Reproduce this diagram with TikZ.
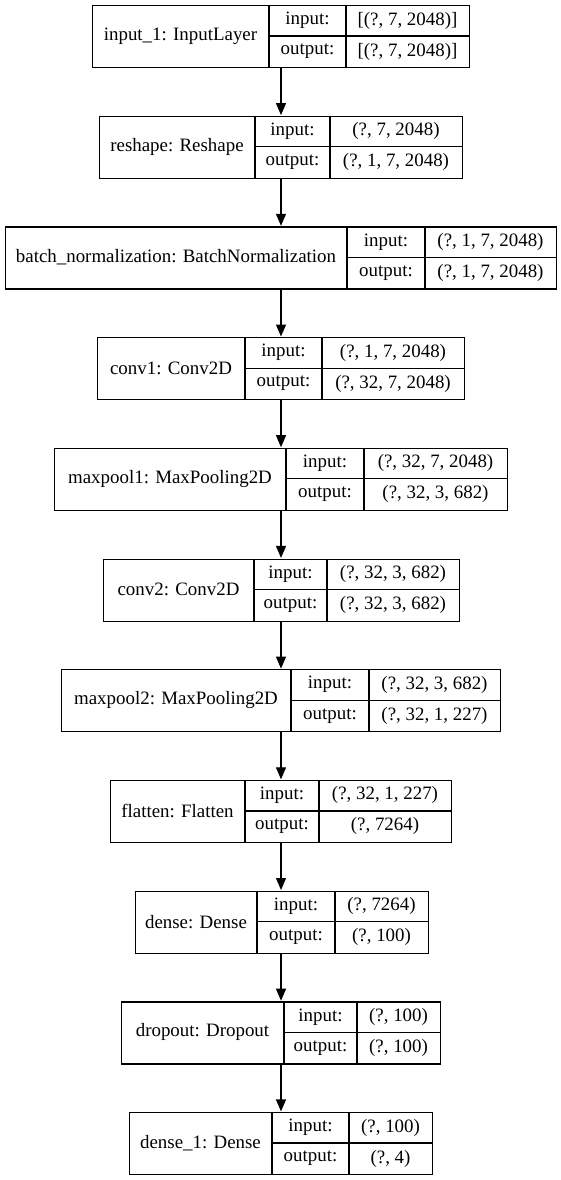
\documentclass[tikz,border=0pt]{standalone}
\usepackage{fontspec}
\setmainfont{Liberation Serif}
\usetikzlibrary{arrows.meta}
\tikzset{
  outer/.style={draw=black, line width=1.2pt, inner sep=0pt, anchor=north west},
  sep/.style={draw=black, line width=1.2pt},
  txt/.style={inner sep=0pt, font=\fontsize{18.9}{22}\selectfont},
  arr/.style={draw=black, line width=1.2pt, -{Triangle[length=12pt,width=10pt]}, shorten >=0.6pt}
}
% #1 name, #2 top, #3 x0, #4 x1, #5 x2, #6 x3, #7 label, #8 input, #9 output
\newcommand{\kerasLayer}[9]{%
  \node[outer, minimum width={(#6-#3)*1pt}, minimum height=62pt] (#1) at (#3,#2) {};
  \draw[sep] (#4,#2) -- (#4,{#2+62});
  \draw[sep] (#5,#2) -- (#5,{#2+62});
  \draw[sep] (#4,{#2+31}) -- (#6,{#2+31});
  \node[txt] (#1l) at ({(#3+#4)/2},{#2+31}) {#7};
  \node[txt] (#1ik) at ({(#4+#5)/2},{#2+15.5}) {input:};
  \node[txt] (#1iv) at ({(#5+#6)/2},{#2+15.5}) {#8};
  \node[txt] (#1ok) at ({(#4+#5)/2},{#2+46.5}) {output:};
  \node[txt] (#1ov) at ({(#5+#6)/2},{#2+46.5}) {#9};
}
\begin{document}
\begin{tikzpicture}[x=1pt,y=-1pt]
\useasboundingbox[fill=white] (0,0) rectangle (561,1180);
\coordinate (axis) at (281,0);
\kerasLayer{L1}{5}{92}{269}{346}{469}{input\_1: InputLayer}{[(?, 7, 2048)]}{[(?, 7, 2048)]}
\kerasLayer{L2}{115.7}{99}{255}{330}{462}{reshape: Reshape}{(?, 7, 2048)}{(?, 1, 7, 2048)}
\kerasLayer{L3}{226.4}{5}{347}{425}{556}{batch\_normalization: BatchNormalization}{(?, 1, 7, 2048)}{(?, 1, 7, 2048)}
\kerasLayer{L4}{337.1}{97}{245}{322}{464}{conv1: Conv2D}{(?, 1, 7, 2048)}{(?, 32, 7, 2048)}
\kerasLayer{L5}{447.8}{54}{286}{364}{507}{maxpool1: MaxPooling2D}{(?, 32, 7, 2048)}{(?, 32, 3, 682)}
\kerasLayer{L6}{558.5}{103}{254}{327}{459}{conv2: Conv2D}{(?, 32, 3, 682)}{(?, 32, 3, 682)}
\kerasLayer{L7}{669.2}{61}{291}{369}{500}{maxpool2: MaxPooling2D}{(?, 32, 3, 682)}{(?, 32, 1, 227)}
\kerasLayer{L8}{779.9}{110}{245}{319}{451}{flatten: Flatten}{(?, 32, 1, 227)}{(?, 7264)}
\kerasLayer{L9}{890.6}{135}{257}{335}{428}{dense: Dense}{(?, 7264)}{(?, 100)}
\kerasLayer{L10}{1001.3}{121}{284}{357}{440}{dropout: Dropout}{(?, 100)}{(?, 100)}
\kerasLayer{L11}{1112}{129}{272}{349}{432}{dense\_1: Dense}{(?, 100)}{(?, 4)}
\draw[arr] (axis |- L1.south) -- (axis |- L2.north);
\draw[arr] (axis |- L2.south) -- (axis |- L3.north);
\draw[arr] (axis |- L3.south) -- (axis |- L4.north);
\draw[arr] (axis |- L4.south) -- (axis |- L5.north);
\draw[arr] (axis |- L5.south) -- (axis |- L6.north);
\draw[arr] (axis |- L6.south) -- (axis |- L7.north);
\draw[arr] (axis |- L7.south) -- (axis |- L8.north);
\draw[arr] (axis |- L8.south) -- (axis |- L9.north);
\draw[arr] (axis |- L9.south) -- (axis |- L10.north);
\draw[arr] (axis |- L10.south) -- (axis |- L11.north);
\end{tikzpicture}
\end{document}
